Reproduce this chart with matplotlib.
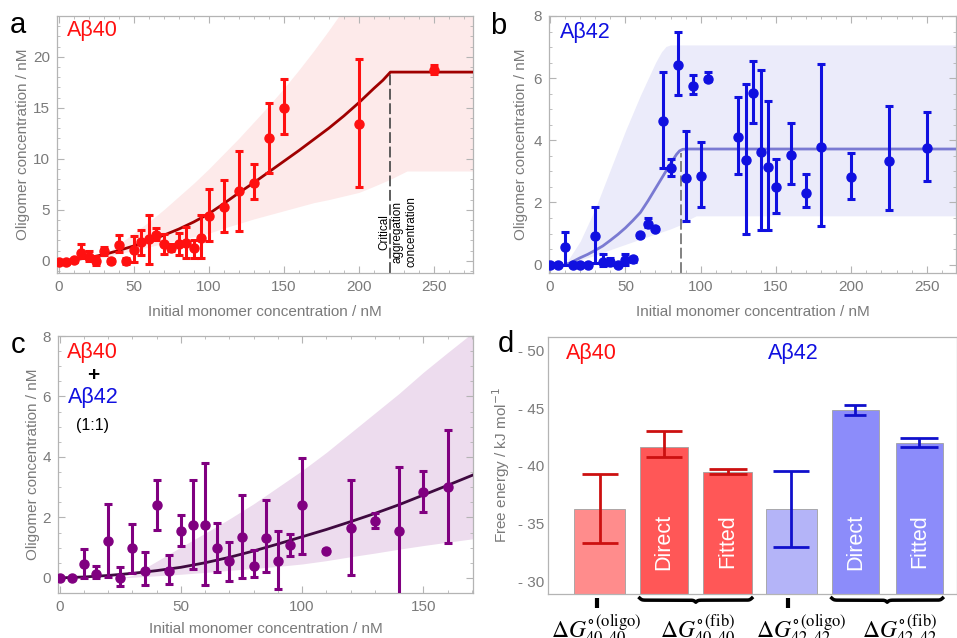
import numpy as np
import matplotlib
matplotlib.use("Agg")
import matplotlib.pyplot as plt
from matplotlib.ticker import MultipleLocator, FixedLocator, NullLocator
import matplotlib.transforms as mtransforms

plt.rcParams['font.family'] = ['Liberation Sans', 'DejaVu Sans']

# ---- panel a: Abeta40 ----
a_x = [0, 5, 10, 15, 20, 25, 30, 35, 40, 45, 50, 55, 60, 65, 70, 75, 80, 85, 90, 95,
       100, 110, 120, 130, 140, 150, 200, 250]
a_y = [-0.1, -0.1, 0.05, 0.8, 0.4, 0.0, 1.0, 0.0, 1.5, 0.0, 1.1, 1.8, 2.1, 2.5, 1.6, 1.3,
       1.6, 1.7, 1.3, 2.25, 4.4, 5.3, 6.8, 7.65, 12.0, 15.0, 13.4, 18.7]
a_hi = [0.1, 0.1, 0.2, 1.6, 1.0, 0.45, 1.35, 0.2, 2.5, 0.3, 2.4, 3.0, 4.5, 3.2, 2.6, 1.6,
        2.7, 3.3, 2.0, 4.5, 7.0, 7.9, 10.8, 9.5, 15.5, 17.8, 19.8, 19.2]
a_lo = [-0.3, -0.3, -0.1, 0.3, 0.0, -0.45, 0.6, -0.2, 0.9, -0.3, -0.1, 0.6, -0.3, 2.0, 0.7, 1.0,
        0.6, 0.3, 0.3, 0.3, 1.9, 2.8, 2.9, 6.1, 8.6, 12.4, 7.2, 18.3]
a_fit_x = [0, 10, 20, 30, 40, 50, 60, 70, 80, 90, 100, 110, 120, 130, 140, 150, 160, 170,
           180, 190, 200, 210, 216, 221, 276]
a_fit_y = [0, 0.08, 0.3, 0.6, 1.0, 1.45, 1.95, 2.5, 3.1, 3.8, 4.6, 5.6, 6.65, 7.65, 8.7, 9.75,
           10.8, 11.9, 13.0, 14.2, 15.5, 16.9, 17.7, 18.5, 18.5]
a_band_x = [25, 30, 40, 50, 60, 70, 80, 90, 100, 110, 120, 130, 140, 150, 160, 170, 180, 190,
            200, 210, 221, 232, 276]
a_band_hi = [0.2, 0.5, 1.6, 2.7, 3.8, 5.0, 6.3, 7.6, 9.0, 10.5, 12.0, 13.6, 15.2, 16.9, 18.7,
             20.6, 22.6, 24.7, 26.9, 29, 31, 31, 31]
a_band_lo = [0.2, 0.3, 0.7, 1.0, 1.35, 1.7, 2.05, 2.35, 2.7, 3.2, 3.65, 4.1, 4.5, 4.9, 5.3,
             5.7, 6.0, 6.35, 6.7, 7.3, 8.0, 8.8, 8.8]
a_cc = 221

# ---- panel b: Abeta42 ----
b_x = [0, 5, 10, 15, 20, 25, 30, 35, 40, 45, 50, 55, 60, 65, 70, 75, 80, 85, 90, 95, 100,
       105, 125, 130, 135, 140, 145, 150, 160, 170, 180, 200, 225, 250]
b_y = [0.0, 0.0, 0.56, 0.0, 0.0, 0.0, 0.93, 0.08, 0.1, 0.0, 0.15, 0.17, 0.95, 1.3, 1.15,
       4.62, 3.1, 6.43, 2.8, 5.75, 2.85, 5.97, 4.1, 3.37, 5.52, 3.63, 3.15, 2.5, 3.54, 2.32,
       3.78, 2.83, 3.35, 3.74]
b_hi = [0.05, 0.05, 1.05, 0.05, 0.05, 0.05, 1.85, 0.35, 0.2, 0.05, 0.35, 0.25, 1.0, 1.5,
        1.2, 6.2, 3.4, 7.5, 4.3, 6.1, 3.95, 6.2, 5.4, 5.8, 6.55, 6.25, 5.25, 3.4, 4.55, 2.9,
        6.45, 3.6, 5.1, 4.9]
b_lo = [-0.05, -0.05, 0.0, -0.05, -0.05, -0.05, 0.05, -0.05, 0.0, -0.05, 0.0, 0.1, 0.9,
        1.2, 1.1, 3.1, 2.85, 5.45, 1.4, 5.5, 1.85, 5.9, 2.9, 1.0, 4.55, 1.1, 1.1, 1.65, 2.6,
        1.85, 1.25, 2.1, 1.75, 2.7]
b_fit_x = [10, 13, 16, 20, 25, 30, 35, 40, 45, 50, 55, 60, 65, 70, 75, 80, 84, 86, 88, 92,
           270]
b_fit_y = [0.0, 0.05, 0.12, 0.22, 0.33, 0.46, 0.6, 0.78, 0.97, 1.18, 1.42, 1.68, 2.05, 2.45,
           2.85, 3.25, 3.55, 3.66, 3.71, 3.72, 3.72]
b_band_x = [10, 16, 20, 30, 40, 50, 60, 70, 74, 77, 80, 86, 92, 97, 270]
b_band_hi = [0.0, 0.45, 0.75, 1.8, 3.05, 4.3, 5.45, 6.5, 6.85, 7.02, 7.07, 7.07, 7.07, 7.07,
             7.07]
b_band_lo = [0.0, 0.08, 0.15, 0.3, 0.48, 0.65, 0.82, 0.98, 1.05, 1.1, 1.15, 1.27, 1.45, 1.57,
             1.57]
b_cc = 87

# ---- panel c: 1:1 mixture ----
c_x = [0, 5, 10, 15, 20, 25, 30, 35, 40, 45, 50, 55, 60, 65, 70, 75, 80, 85, 90, 95, 100,
       110, 120, 130, 140, 150, 160]
c_y = [0.0, 0.0, 0.46, 0.13, 1.21, 0.0, 0.98, 0.24, 2.41, 0.24, 1.56, 1.75, 1.76, 0.99,
       0.55, 1.34, 0.39, 1.32, 0.55, 1.09, 2.41, 0.9, 1.64, 1.87, 1.56, 2.83, 3.0]
c_hi = [0.0, 0.0, 0.96, 0.38, 2.45, 0.35, 1.78, 0.85, 3.24, 0.77, 2.08, 3.24, 3.8, 1.81,
        1.2, 2.74, 0.93, 2.56, 1.54, 1.45, 3.96, 0.95, 3.24, 2.13, 3.68, 3.52, 4.9]
c_lo = [0.0, 0.0, 0.0, 0.0, 0.02, -0.28, 0.15, -0.25, 1.6, -0.2, 1.07, 0.3, -0.25, 0.2,
        -0.1, 0.01, 0.02, 0.2, -0.36, 0.71, 0.8, 0.85, 0.1, 1.64, -1.0, 2.19, 1.16]
c_fit_x = [0, 10, 20, 30, 40, 50, 60, 70, 80, 90, 100, 110, 120, 130, 140, 150, 160, 171]
c_fit_y = [0, 0.03, 0.08, 0.15, 0.24, 0.35, 0.5, 0.68, 0.89, 1.12, 1.36, 1.6, 1.86, 2.13,
           2.42, 2.74, 3.06, 3.42]
c_band_x = [25, 30, 40, 50, 60, 70, 80, 90, 100, 110, 120, 130, 140, 150, 160, 171]
c_band_hi = [0.0, 0.08, 0.55, 1.02, 1.48, 1.95, 2.45, 3.0, 3.55, 4.15, 4.8, 5.45, 6.1, 6.8,
             7.45, 8.15]
c_band_lo = [0.0, 0.02, 0.07, 0.12, 0.18, 0.25, 0.31, 0.38, 0.46, 0.57, 0.7, 0.82, 0.95,
             1.07, 1.18, 1.3]

# ---- panel d: free energies ----
d_values = [-36.3, -41.65, -39.5, -36.25, -44.8, -41.97]
d_err_top = [-39.27, -42.5, -39.7, -39.5, -45.17, -42.35]
d_err_bottom = [-33.3, -40.3, -39.3, -32.96, -44.3, -41.57]
d_bar_text = ['', 'Direct', 'Fitted', '', 'Direct', 'Fitted']
d_group_labels = [r'$\Delta G^{\circ\,(\mathrm{oligo})}_{40,40}$',
                  r'$\Delta G^{\circ\,(\mathrm{fib})}_{40,40}$',
                  r'$\Delta G^{\circ\,(\mathrm{oligo})}_{42,42}$',
                  r'$\Delta G^{\circ\,(\mathrm{fib})}_{42,42}$']

W, H = 957, 638
fig = plt.figure(figsize=(W / 100, H / 100), dpi=100)


def px_axes(l, t, r, b):
    return fig.add_axes([l / W, 1 - b / H, (r - l) / W, (b - t) / H])


frame_gray = '#b4b4b4'
label_gray = '#7a7a7a'


def frame_style(ax, xmaj, xmin, ymaj, ymin):
    ax.xaxis.set_major_locator(MultipleLocator(xmaj))
    ax.xaxis.set_minor_locator(MultipleLocator(xmin))
    ax.yaxis.set_major_locator(MultipleLocator(ymaj))
    ax.yaxis.set_minor_locator(MultipleLocator(ymin))
    ax.tick_params(which='both', direction='in', top=True, right=True,
                   color=frame_gray, labelcolor=label_gray, labelsize=11, pad=5)
    ax.tick_params(which='major', length=5)
    ax.tick_params(which='minor', length=2.5)
    for s in ax.spines.values():
        s.set_color(frame_gray)
        s.set_linewidth(0.9)
    ax.set_xlabel('Initial monomer concentration / nM', color=label_gray, fontsize=11,
                  labelpad=8)
    ax.set_ylabel('Oligomer concentration / nM', color=label_gray, fontsize=11, labelpad=2)


def scatter_err(ax, x, y, lo, hi, color):
    x = np.array(x)
    y = np.array(y)
    yerr = [y - np.array(lo), np.array(hi) - y]
    ax.errorbar(x, y, yerr=yerr, fmt='o', color=color, ms=6.5, elinewidth=2.2,
                capsize=3, capthick=2.2, zorder=4)


# panel a
ax = px_axes(57, 16, 473, 273)
ax.fill_between(a_band_x, a_band_lo, a_band_hi, color='#fdeaea', lw=0, zorder=1)
ax.plot(a_fit_x, a_fit_y, color='#a00000', lw=2, zorder=3)
ax.plot([a_cc, a_cc], [-1.2, a_fit_y[-1]], color='#505050', lw=1.3, ls=(0, (6, 2)), zorder=2)
scatter_err(ax, a_x, a_y, a_lo, a_hi, '#ff1010')
ax.set_xlim(-1, 276)
ax.set_ylim(-1.2, 24)
frame_style(ax, 50, 10, 5, 1)
ax.text(226, 2.85, 'Critical\naggregation\nconcentration', rotation=90, ha='center',
        va='center', multialignment='center', fontsize=8.5, linespacing=1.15)
ax.text(22.7, 22.6, 'Aβ40', color='#ff1010', fontsize=15.5, ha='center', va='center')

# panel b
ax = px_axes(549, 16, 956, 273)
ax.fill_between(b_band_x, b_band_lo, b_band_hi, color='#ebebfa', lw=0, zorder=1)
ax.plot(b_fit_x, b_fit_y, color='#7a7ad2', lw=2, zorder=3)
ax.plot([b_cc, b_cc], [-0.27, 3.6], color='#777777', lw=1.3, ls=(0, (6, 2)), zorder=2)
scatter_err(ax, b_x, b_y, b_lo, b_hi, '#1010e0')
ax.set_xlim(-0.7, 269.5)
ax.set_ylim(-0.27, 8)
frame_style(ax, 50, 10, 2, 0.5)
ax.yaxis.labelpad = 4
ax.text(23.6, 7.47, 'Aβ42', color='#1010e0', fontsize=15.5, ha='center', va='center')

# panel c
ax = px_axes(58, 336, 473, 593)
ax.fill_between(c_band_x, c_band_lo, c_band_hi, color='#eddcee', lw=0, zorder=1)
ax.plot(c_fit_x, c_fit_y, color='#3f0a40', lw=2, zorder=3)
scatter_err(ax, c_x, c_y, c_lo, c_hi, '#800080')
ax.set_xlim(-0.7, 170.5)
ax.set_ylim(-0.5, 8)
frame_style(ax, 50, 10, 2, 0.5)
ax.xaxis.labelpad = 6
ax.text(13.4, 7.45, 'Aβ40', color='#ff1010', fontsize=15.5, ha='center', va='center')
ax.text(13.9, 6.71, '+', color='black', fontsize=15, ha='center', va='center',
        fontweight='bold')
ax.text(13.8, 5.97, 'Aβ42', color='#1010e0', fontsize=15.5, ha='center', va='center')
ax.text(13.4, 5.04, '(1:1)', color='black', fontsize=11.5, ha='center', va='center')

# panel d
ax = px_axes(548, 337, 957, 594)
pos = np.arange(len(d_values))
widths = [0.8, 0.75, 0.76, 0.8, 0.74, 0.73]
bar_colors = ['#ff8c8c', '#ff5757', '#ff5757', '#b4b4f8', '#8c8cfa', '#8c8cfa']
err_colors = ['#cc1010', '#cc1010', '#cc1010', '#1010cc', '#1010cc', '#1010cc']
caps = [13, 13, 14, 13, 8, 14]
ybot = -28.9
ax.set_ylim(ybot, -51.15)
ax.set_xlim(-0.81, 5.59)
for i in range(len(d_values)):
    ax.bar(pos[i], d_values[i] - ybot, bottom=ybot, width=widths[i], color=bar_colors[i],
           edgecolor='#a0a0a0', linewidth=0.6, zorder=2)
    mid = d_values[i]
    ax.errorbar(pos[i], mid, yerr=[[d_err_bottom[i] - mid], [mid - d_err_top[i]]],
                fmt='none', ecolor=err_colors[i], elinewidth=2, capsize=caps[i],
                capthick=2, zorder=3)
    if d_bar_text[i]:
        ax.text(pos[i], -33.45, d_bar_text[i], rotation=90, color='white', fontsize=15.5,
                ha='center', va='center', zorder=4)
ax.yaxis.set_major_locator(FixedLocator([-50, -45, -40, -35, -30]))
ax.set_yticklabels(['- 50', '- 45', '- 40', '- 35', '- 30'])
ax.yaxis.set_minor_locator(NullLocator())
ax.xaxis.set_major_locator(NullLocator())
ax.tick_params(axis='y', direction='in', length=0, labelcolor=label_gray, labelsize=11,
               pad=3)
for s in ax.spines.values():
    s.set_color(frame_gray)
    s.set_linewidth(0.9)
ax.set_ylabel('Free energy / kJ mol$^{-1}$', color=label_gray, fontsize=11, labelpad=4)
ax.text(-0.13, -49.75, 'Aβ40', color='#ff1010', fontsize=15.5, ha='center', va='center')
ax.text(3.03, -49.75, 'Aβ42', color='#1010e0', fontsize=15.5, ha='center', va='center')

trans = mtransforms.blended_transform_factory(ax.transData, ax.transAxes)
for p in [pos[0], pos[3]]:
    ax.plot([p - 0.05, p - 0.05], [-0.015, -0.055], color='black', lw=3, transform=trans,
            clip_on=False, solid_capstyle='butt')


def brace(x0, x1, ytop, depth):
    n = 200
    xs = np.linspace(x0, x1, n + 1)
    half = xs[:n // 2 + 1]
    beta = 60.0
    yh = 1 / (1 + np.exp(-beta * (half - half[0]))) + 1 / (1 + np.exp(-beta * (half - half[-1])))
    yy = np.concatenate((yh, yh[-2::-1]))
    yy = ytop - depth * (yy - 0.5)
    ax.plot(xs, yy, color='black', lw=2.5, transform=trans, clip_on=False)


brace(pos[1] - widths[1] / 2, pos[2] + widths[2] / 2, -0.016, 0.016)
brace(pos[4] - widths[4] / 2, pos[5] + widths[5] / 2, -0.016, 0.016)

label_x = [-0.05, 1.53, 3.16, 4.7]
for lx, lab in zip(label_x, d_group_labels):
    ax.text(lx, -0.07, lab, transform=trans, ha='center', va='top', fontsize=17,
            math_fontfamily='stix')

# panel letters
for letter, (lx, ly) in zip('abcd', [(18, 25), (498, 26), (18, 345), (506, 344)]):
    fig.text(lx / W, 1 - ly / H, letter, fontsize=21, ha='center', va='center')

fig.savefig('out.png', dpi=100)
